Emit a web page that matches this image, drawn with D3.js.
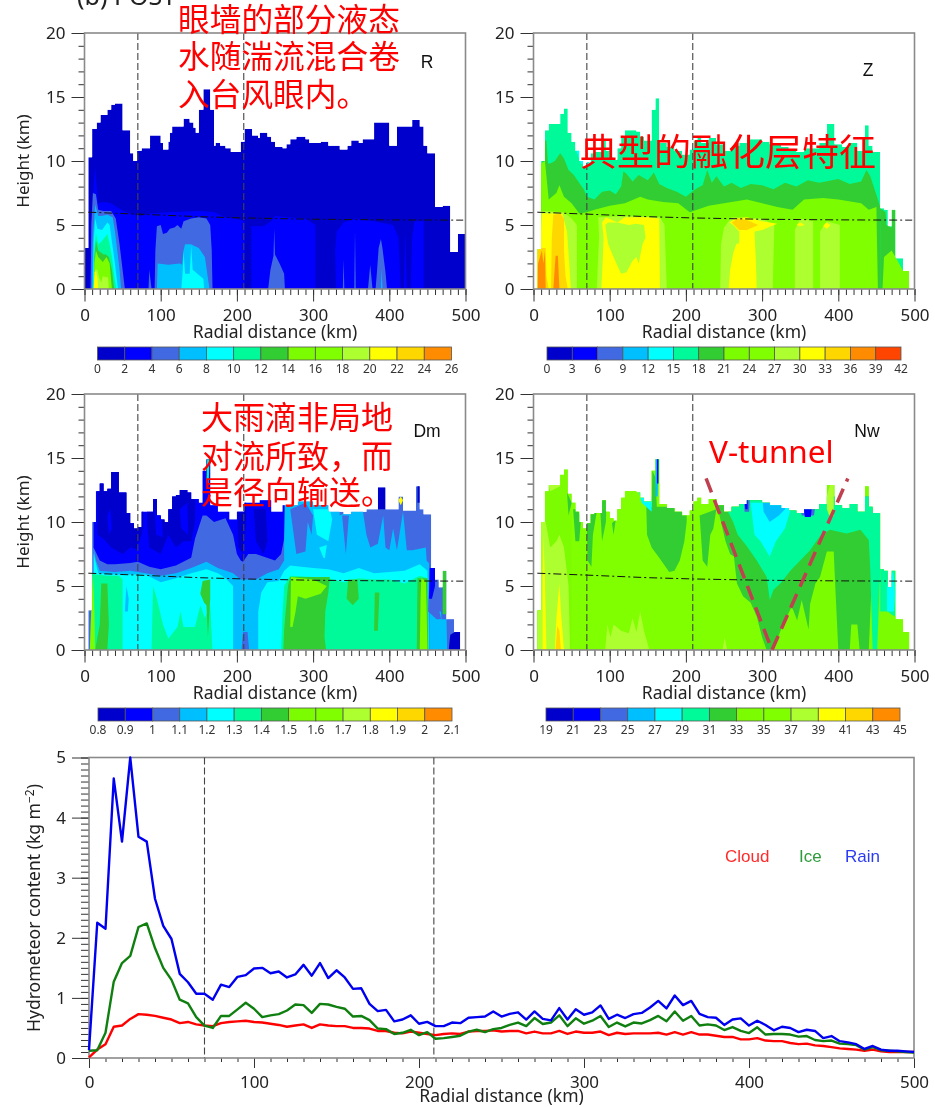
<!DOCTYPE html>
<html><head><meta charset="utf-8">
<script src="https://cdn.jsdelivr.net/npm/d3@7"></script>
<style>html,body{margin:0;padding:0;background:#fff}svg{display:block;filter:blur(0.4px)}</style>
</head><body><svg id="c" width="935" height="1107"></svg>
<script>
const levelColors=["#0000CD","#0000FF","#4169E1","#00BFFF","#00FFFF","#00FA9A","#32CD32","#7CFC00","#7FFF00","#ADFF2F","#FFFF00","#FFD700","#FF8C00","#FF4500"];
const rLevels=[0,2,4,6,8,10,12,14,16,18,20,22,24,26];
const zLevels=[0,3,6,9,12,15,18,21,24,27,30,33,36,39,42];
const dmLevels=[0.8,0.9,1,1.1,1.2,1.3,1.4,1.5,1.6,1.7,1.8,1.9,2,2.1];
const nwLevels=[19,21,23,25,27,29,31,33,35,37,39,41,43,45];
const guideRadii=[70,209];
const meltingLayer=[[5,6],[70,5.85],[150,5.65],[210,5.55],[300,5.45],[400,5.4],[497,5.38]];

const rTop=[[0,3.2],[5,10.3],[10,12.5],[16,13],[21,13.6],[30,14],[35,14.4],[40,14.5],[50,12.4],[60,10.6],[64,10],[69,10.8],[75,11],[86,12],[100,11.4],[103,10.9],[110,11.5],[112,12.2],[115,12.7],[130,13.3],[138,13],[143,12.6],[146,12.2],[150,14],[156,15.6],[165,14],[170,11.2],[172,11.4],[178,11.2],[185,11],[192,10.7],[205,11.5],[210,12.5],[220,12],[228,11.8],[230,12.2],[240,11.9],[245,11.5],[250,11.1],[260,11],[265,11.3],[270,11.7],[278,11.9],[290,11.7],[295,11.4],[310,11.5],[320,11.2],[335,10.9],[345,11.2],[350,11.6],[360,11.4],[365,11.7],[380,13],[400,11.2],[410,12.7],[430,13.2],[440,12.7],[445,11.2],[450,10.6],[460,6.4],[470,6.5],[480,2.9],[490,4.3],[500,4.3]];
const zTop=[[5,3.1],[10,10],[15,12.4],[20,12.9],[35,13.7],[40,14.1],[45,12.2],[50,11.5],[55,10.8],[60,10],[65,9.5],[70,9.9],[75,10.6],[80,10.7],[90,11.7],[95,10.8],[100,10.3],[105,10.1],[110,11],[115,11.9],[120,12.4],[135,12.3],[140,11.9],[145,11.6],[155,14],[160,14.9],[165,11.4],[175,11.1],[185,10.8],[195,10.5],[205,10.9],[210,11.6],[215,11.9],[220,11.4],[230,11.8],[240,11.3],[250,10.8],[260,11.2],[270,11.4],[280,11.7],[300,11.5],[310,11.3],[325,11.1],[335,10.9],[345,10.7],[355,11],[365,11],[375,11.4],[385,12.9],[395,11.3],[405,11.1],[415,11.4],[425,10.8],[435,12.8],[440,11.2],[445,10.7],[455,6.3],[460,6.2],[465,4.9],[470,6.2],[475,2.4],[485,1.4],[493,1.4]];
const dmTop=[[5,3.1],[10,10],[15,12.4],[20,13],[25,12.4],[30,12.6],[35,13.9],[45,12.3],[55,10.7],[60,9.9],[65,9.5],[70,9.6],[75,10.8],[90,11.8],[95,10.5],[100,10.2],[105,10],[110,11],[115,12],[120,12.1],[125,12.5],[135,12.3],[140,11.8],[150,11.5],[155,14],[160,14.9],[165,11.3],[175,10.8],[190,10.2],[200,10.8],[210,11.5],[230,11.7],[245,10.8],[260,11.3],[280,11.6],[300,11.3],[320,10.8],[340,10.6],[350,10.8],[370,11],[385,12.7],[395,11],[412,12],[418,10.9],[435,12.8],[440,11],[445,10.6],[455,6.4],[460,5.5],[465,4.9],[470,6.2],[475,2.4],[485,1.4],[493,1.4]];

const rRegions=[
[1,[[6,0],[8,5],[10,6.3],[12,8],[14,9.5],[16,8],[18,6.7],[25,6.8],[35,6.7],[45,6.3],[55,6],[65,5.8],[75,5.7],[85,5.9],[110,6],[150,6.1],[170,6],[185,5.6],[205,5.4],[210,5.3],[210,0]]],
[1,[[219,0],[219,4.9],[235,4.9],[245,5.3],[250,5.7],[265,5.6],[290,5.5],[303,5],[303,0]]],
[1,[[330,0],[329,3],[331,4.5],[340,5.2],[355,5.5],[380,5.3],[405,5],[412,4],[415,0]]],
[1,[[419,0],[421,4.5],[423,0]]],
[1,[[428,0],[430,4],[433,5.3],[445,5.3],[445,0]]],
[2,[[8,0],[9,5],[11,7.5],[15,7.4],[18,6.2],[25,6.1],[35,6.1],[41,5.5],[46,3.5],[50,1.5],[53,0]]],
[2,[[84,0],[85,1.5],[88,0]]],
[2,[[92,0],[93,3],[95,4.9],[100,5],[103,4.3],[108,4.4],[112,4.7],[118,4.8],[122,5],[127,4.7],[130,5.3],[140,5.5],[150,5.6],[160,5.5],[165,5],[167,3],[168,0]]],
[2,[[241,0],[244,1.5],[248,2.6],[249,4.7],[250,2.7],[256,2],[262,1.2],[263,0]]],
[2,[[372,0],[375,1.9],[378,0]]],
[2,[[382,0],[384,1.5],[386,3.2],[389,3.9],[391,3.2],[395,1.3],[397,0]]],
[2,[[339,0],[340,2.3],[341,0]]],
[2,[[354,0],[355,4.5],[356,0]]],
[3,[[10,0],[11,4],[14,6.6],[18,5.7],[22,5.7],[30,5.8],[37,5.6],[40,4.5],[43,3],[46,1.5],[48,0]]],
[3,[[95,0],[96,2],[110,1.9],[125,2],[128,1.9],[130,3],[132,3.5],[140,3.5],[143,3.4],[150,3.2],[158,2.5],[164,0]]],
[3,[[389,0],[390,1.6],[391,0]]],
[4,[[11,0],[12,3.6],[14,5.5],[17,4.7],[23,4.6],[30,5.2],[33,5],[36,3.7],[40,2],[44,0]]],
[4,[[127,0],[129,1.5],[130,3],[132,1.2],[138,1.2],[140,3.4],[142,1.5],[150,1.1],[156,0.8],[157,0]]],
[5,[[12,0],[13,3],[15,4.4],[18,3.5],[22,3.7],[30,4.3],[33,3.5],[36,2.5],[39,1],[42,0]]],
[6,[[12,0],[13,2.5],[15,3.8],[18,3],[25,2.7],[28,2.7],[32,2.5],[36,1.5],[39,0]]],
[7,[[12,0],[13,2],[15,3],[18,2.5],[24,2.1],[29,2.5],[33,2],[36,0]]],
[9,[[13,0],[14,1.5],[17,1.5],[19,0.9],[22,0.5],[24,1],[31,0.9],[32,0]]],
[10,[[12,0],[13.5,1.3],[15,1.4],[17,0.8],[18,0]]]
];

const zRegions=[
[4,[[55,11],[62,9.8],[72,9.5],[75,11]]],
[6,[[5,0],[12,10],[15,11.6],[17,11.6],[19,9.8],[22,9.8],[28,10],[35,10.6],[40,10.2],[46,9.3],[53,8.9],[61,8.2],[66,7.8],[70,7.2],[80,7],[90,7.6],[100,7.7],[108,7.4],[115,8],[118,9.2],[122,9],[130,8.4],[138,8.9],[150,8.5],[158,9.1],[165,8.2],[175,7.9],[188,7.6],[200,7.2],[208,7.6],[215,7.9],[222,8.1],[228,9.3],[234,8.3],[240,8.8],[250,8],[260,8.3],[272,7.9],[285,8.2],[300,8.1],[315,7.8],[330,8.3],[345,8],[360,8.5],[375,8.3],[400,8.6],[415,8.2],[430,8.4],[437,9.3],[442,8.8],[452,7],[455,6.4],[455,0]]],
[6,[[455,0],[455,6.3],[462,6],[463,5],[470,4.8],[470,6.2],[475,6.2],[475,0]]],
[7,[[5,0],[5,3.1],[10,9.8],[15,10],[20,7],[30,7.5],[34,8.1],[40,7.2],[50,6.7],[60,5.9],[70,6],[80,6.2],[100,6.5],[120,6.7],[140,7.2],[150,7],[170,6.8],[190,6.7],[205,6],[230,6.5],[260,6.8],[280,7],[300,6.7],[320,6.4],[340,6.2],[355,7],[380,7.1],[400,7],[430,6.7],[440,6.2],[450,6.4],[452,0]]],
[7,[[458,0],[460,2.5],[470,3],[476,2.4],[485,1.4],[493,1.4],[493,0]]],
[8,[[5,0],[5,3],[10,6],[30,6],[60,5.8],[100,5.8],[150,5.7],[200,5.5],[250,5.5],[300,5.5],[350,5.4],[400,5.4],[449,5.2],[451,0]]],
[9,[[5,0],[5,3],[10,6.1],[40,6],[50,5.5],[57,5],[57,0]]],
[9,[[83,0],[86,4],[85,5.6],[120,5.7],[166,5.6],[172,5],[175,0]]],
[9,[[245,0],[246,3.5],[250,4.8],[260,5.6],[300,5.5],[316,5],[314,0]]],
[9,[[343,0],[343,4.6],[350,5.5],[367,5.3],[367,0]]],
[9,[[376,0],[376,4.5],[385,5.3],[402,5],[402,0]]],
[10,[[5,0],[5,3],[9,3.5],[11,5.9],[25,5.9],[38,5.9],[44,4.5],[47,2],[49,0]]],
[10,[[89,0],[91,2.5],[92,4],[90,5.2],[95,5.6],[110,5.2],[120,5.6],[150,5.6],[165,5.5],[166,0]]],
[9,[[94,5],[98,3.5],[105,2.5],[115,1.2],[122,1.3],[130,2.2],[135,2.5],[138,2],[143,3.5],[147,4],[145,5],[135,5.1],[125,5],[110,5.2],[98,5.2]]],
[10,[[256,0],[258,1.5],[262,2.8],[266,3.5],[270,3.6],[270,4.5],[262,5],[257,5.2],[265,5.5],[280,5.6],[300,5.3],[320,5.1],[300,4.6],[290,4.5],[292,2],[293,0]]],
[10,[[345,5],[350,5.2],[356,5],[350,4.9]]],
[10,[[380,4.9],[384,5.2],[390,5],[385,4.7]]],
[11,[[260,5.2],[268,5.5],[280,5.4],[295,5],[280,4.6],[270,4.6]]],
[11,[[5,0],[5,3],[10,3.2],[16,3.2],[17,1],[20,0]]],
[11,[[23,0],[24,4],[26,5.8],[35,5.9],[40,5.5],[40,3],[42,1],[45,0]]],
[12,[[5.5,0],[6,2],[11,3],[13,2],[15,3],[16,0]]],
[12,[[26,0],[29,2.6],[32,2.6],[34,0]]]
];

const dmRegions=[
[1,[[12,16],[12,8],[20,7],[30,6.7],[40,6.7],[60,6.8],[70,6.9],[85,6.5],[100,6.3],[120,6.6],[140,7.2],[145,8.7],[155,10.5],[160,10.5],[170,10],[185,10.3],[195,9],[200,7.5],[205,7],[208,6.9],[215,7.5],[225,7.5],[250,7],[258,7.5],[263,9],[262,16]]],
[0,[[16,16],[17,9],[25,8.7],[35,8],[50,7.5],[60,8],[68,7.9],[72,8.5],[77,9.5],[78,16]]],
[1,[[30,10.5],[32,9],[36,9.5],[34,11]]],
[0,[[82,16],[82,10],[85,8],[100,7.5],[110,9],[120,8],[130,8.5],[140,8.5],[145,10],[147,16]]],
[1,[[92,11],[94,9],[103,8.8],[101,10.5]]],
[1,[[125,11],[127,9.5],[136,9],[135,11.5]]],
[0,[[200,12],[202,8],[208,7.5],[212,10],[212,12]]],
[0,[[222,11],[225,8.5],[235,7.5],[240,8.5],[238,11]]],
[0,[[385,16],[385,11],[395,11],[395,16]]],
[0,[[437,16],[437,11.5],[440,11.5],[440,16]]],
[3,[[262,6],[262,9],[265,16],[330,16],[335,10.5],[360,11.2],[365,11],[370,9],[375,8],[385,8.3],[392,10.5],[395,8],[400,7.8],[405,9.5],[410,7.8],[418,10.8],[423,7.8],[430,7.8],[448,8],[450,6]]],
[2,[[270,11],[278,7.5],[290,7.7],[293,10],[298,9],[300,10.5],[290,11.5]]],
[2,[[338,10.5],[343,7.5],[347,10.5]]],
[4,[[300,11],[305,9],[320,8.5],[325,10.2],[322,11]]],
[4,[[308,8],[315,7],[318,8.2]]],
[3,[[12,0],[12,8],[15,7],[20,6.2],[40,6.1],[60,6.2],[80,6],[100,5.8],[120,6],[140,6.4],[160,6.9],[175,6.4],[195,6],[205,5.5],[225,5.5],[240,6],[255,6.3],[262,7],[300,7.4],[340,6.8],[380,6.8],[420,7],[440,7.4],[452,6.8],[453,0]]],
[2,[[206,0],[208,1.4],[214,1.4],[216,0]]],
[4,[[12,0],[12,7.5],[18,6],[40,5.9],[60,5.9],[80,5.9],[100,5.3],[120,5.6],[140,6],[160,6.3],[175,6],[185,5.6],[195,5],[195,0]]],
[4,[[228,0],[228,3],[232,4.5],[240,5.3],[255,5.4],[262,6.2],[270,6.6],[300,6.4],[320,6.3],[340,6],[360,6.4],[380,6],[400,6.1],[420,6.2],[440,6.7],[450,6.2],[452,0]]],
[3,[[53,3],[55,5],[58,4],[57,3]]],
[5,[[9,0],[10,6],[15,5.9],[30,5.8],[45,5.8],[50,5.5],[50,0]]],
[5,[[88,0],[90,5],[95,4],[103,2],[110,0.9],[122,1.8],[126,3],[130,1.8],[145,1.8],[152,3.5],[158,2.5],[165,3.5],[168,0]]],
[5,[[258,0],[260,3],[262,5],[270,5.8],[300,5.7],[320,5.6],[340,5.3],[360,5.6],[380,5.5],[400,5.5],[420,5.2],[440,5.8],[450,5.6],[452,0]]],
[6,[[14,0],[20,2],[22,5.2],[30,5.2],[32,2],[30,0]]],
[6,[[152,4.4],[155,5.4],[165,5.5],[165,4],[162,1],[160,3.5],[157,3.7]]],
[6,[[261,0],[262,1.6],[264,3],[267,5],[270,5.7],[300,5.7],[322,5.7],[320,4.5],[316,3],[315,1],[317,0]]],
[6,[[344,4],[346,5.5],[358,5.5],[360,4],[352,3.5]]],
[6,[[380,1.5],[381,4.5],[387,4.5],[385,1.5]]],
[6,[[436,0],[437,5.6],[450,5.6],[451,0]]],
[7,[[7,0],[8,2],[11,6],[13,3],[14,0]]],
[7,[[270,1.8],[271,5.7],[300,5.5],[318,5],[310,4.4],[290,4],[280,4.2],[277,3],[273,1.8]]],
[7,[[440,0],[441,4],[442,5.6],[448,5.4],[449,3],[450,0]]],
[5,[[160,13],[161,15],[164,15],[163,13]]],
[10,[[412,11.7],[415,12],[418,11.7],[415,11.3]]],
[3,[[453,0],[453,3],[468,3],[470,0]]],
[2,[[451,3],[453,6.4],[458,6.4],[462,4],[468,2.4],[462,2.4]]],
[1,[[452,4],[453,6.4],[460,6.4],[460,5],[456,4]]],
[3,[[466,0],[466,2.4],[475,2.4],[476,0]]],
[6,[[470,2.8],[470,6.2],[475,6.2],[475,2.8]]],
[2,[[476,0],[476,2.4],[485,2.4],[486,0]]],
[0,[[478,0],[480,1.2],[486,1.4],[493,1.4],[493,0]]]
];

const nwRegions=[
[7,[[0,0],[0,16],[500,16],[500,0]]],
[8,[[50,0],[50,16],[300,16],[300,0]]],
[9,[[5,0],[5,3.1],[10,10],[16,10],[22,8],[30,8.5],[34,9],[40,8],[46,5],[48,0]]],
[9,[[20,12.9],[22,12.4],[35,12.8],[35,12.9]]],
[10,[[12,0],[12,5],[13,9],[15,5.5],[17,0]]],
[10,[[28,0],[30,2.5],[34,5.2],[36,3],[40,0]]],
[11,[[29,0],[31,1.9],[34,1.5],[36,0]]],
[9,[[94,0],[97,2],[101,1],[105,2],[115,1.5],[125,1.3],[130,2.5],[135,1.4],[140,3],[145,1.5],[152,0]]],
[9,[[248,0],[251,1],[254,0]]],
[9,[[483,0],[484,1],[493,1.2],[493,0]]],
[6,[[44,12.3],[46,10.5],[50,11.5]]],
[6,[[52,11],[55,8.5],[60,8.5],[62,10],[65,10],[58,11]]],
[6,[[70,9.8],[71,7],[76,6.5],[78,9],[83,10.8],[75,10.8]]],
[6,[[87,11.5],[90,8.5],[95,10],[96,12]]],
[6,[[103,9.9],[105,9],[108,10.2]]],
[6,[[148,11.2],[149,9],[155,8],[165,7.2],[178,6.1],[185,6.2],[192,7],[198,8.5],[201,10],[201,11.2]]],
[6,[[155,11],[156,14],[160,13.5],[162,11]]],
[4,[[138,12.4],[142,11.5],[155,10.8],[155,12]]],
[6,[[218,10.5],[222,7],[228,6.5],[232,9],[236,9.5],[240,11]]],
[6,[[240,11.4],[244,10.5],[252,8.5],[258,7.5],[263,7.3],[267,5.2],[275,4.2],[285,3.7],[293,2.6],[300,1],[306,0],[315,0],[326,1.8],[339,3.4],[346,2.3],[352,3.9],[361,1.6],[363,3.6],[370,5.2],[376,5.7],[385,7.7],[394,7.7],[396,5],[400,0],[415,0],[417,2],[425,2],[428,0],[440,0],[445,7],[455,7],[455,12],[240,12]]],
[5,[[245,12],[262,10],[268,9],[280,8.1],[293,7],[306,5.7],[310,3.9],[315,4.7],[324,5.2],[337,6.2],[350,7],[363,7.8],[376,8.9],[389,9.4],[411,9.1],[429,9.4],[440,8.6],[442,6.2],[445,0],[451,0],[455,6.2],[455,12]]],
[4,[[285,11.5],[290,9],[298,8.5],[310,7.3],[318,8.5],[330,9.5],[340,11.5]]],
[3,[[300,12],[302,10.8],[310,10],[322,10.5],[330,11],[335,12]]],
[2,[[276,12],[277,10.8],[283,10.8],[284,12]]],
[2,[[350,11.3],[352,10.5],[368,10.5],[370,11.3]]],
[1,[[277,12],[278,11],[281,11],[281,12]]],
[1,[[355,11],[356,10.4],[364,10.4],[365,11]]],
[3,[[160,15],[160,12],[163,12],[164,15]]],
[1,[[162,15],[162,13],[164,13],[164,15]]],
[9,[[385,11],[385,12],[389,12.9],[394,12.9],[394,10.5],[390,10.2]]],
[5,[[455,3],[455,6.4],[475,6.4],[475,2.5],[465,3]]],
[7,[[476,0],[476,2.5],[493,1.4],[493,0]]],
[7,[[460,0],[460,3],[476,2.6],[476,0]]],
[4,[[464,3],[464,5],[472,6.2],[475,4.5],[473,3]]]
];

const radial=d3.range(0,501,5);
const rainContent=[0.13,2.25,2.15,4.65,3.6,5,3.68,3.6,2.65,2.2,1.98,1.4,1.26,1.07,1.07,0.97,1.22,1.18,1.35,1.38,1.49,1.5,1.41,1.44,1.34,1.39,1.55,1.37,1.58,1.33,1.46,1.34,1.15,1.16,0.9,0.78,0.8,0.61,0.64,0.71,0.57,0.6,0.53,0.53,0.59,0.58,0.67,0.68,0.69,0.775,0.69,0.735,0.76,0.64,0.775,0.65,0.625,0.83,0.64,0.81,0.72,0.76,0.875,0.65,0.72,0.665,0.73,0.75,0.84,0.95,0.825,1.04,0.88,0.95,0.735,0.68,0.67,0.55,0.64,0.66,0.54,0.62,0.55,0.46,0.52,0.5,0.43,0.47,0.45,0.33,0.365,0.28,0.26,0.23,0.15,0.2,0.14,0.12,0.12,0.11,0.1];
const iceContent=[0.12,0.13,0.42,1.27,1.58,1.7,2.18,2.24,1.83,1.5,1.3,0.97,0.91,0.68,0.54,0.5,0.7,0.7,0.81,0.92,0.82,0.68,0.71,0.73,0.79,0.89,0.88,0.75,0.9,0.89,0.85,0.82,0.69,0.7,0.63,0.49,0.48,0.4,0.42,0.47,0.38,0.43,0.32,0.33,0.35,0.37,0.44,0.47,0.43,0.48,0.5,0.55,0.59,0.53,0.665,0.565,0.59,0.71,0.53,0.66,0.57,0.62,0.7,0.515,0.59,0.525,0.59,0.575,0.63,0.7,0.61,0.775,0.62,0.7,0.54,0.56,0.54,0.465,0.515,0.45,0.415,0.51,0.39,0.4,0.4,0.39,0.355,0.365,0.3,0.28,0.29,0.24,0.23,0.215,0.14,0.18,0.13,0.12,0.11,0.1,0.09];
const cloudContent=[0.01,0.14,0.23,0.52,0.54,0.65,0.73,0.72,0.7,0.67,0.64,0.58,0.6,0.56,0.54,0.53,0.58,0.6,0.61,0.62,0.6,0.59,0.57,0.55,0.52,0.54,0.56,0.5,0.56,0.54,0.53,0.53,0.5,0.5,0.49,0.45,0.45,0.42,0.41,0.44,0.42,0.4,0.38,0.4,0.41,0.4,0.44,0.45,0.45,0.46,0.44,0.45,0.45,0.41,0.44,0.41,0.41,0.45,0.4,0.44,0.42,0.42,0.44,0.38,0.42,0.4,0.41,0.41,0.41,0.42,0.39,0.43,0.39,0.43,0.39,0.39,0.37,0.35,0.35,0.31,0.31,0.33,0.29,0.28,0.28,0.25,0.23,0.24,0.21,0.2,0.18,0.16,0.15,0.14,0.12,0.14,0.11,0.1,0.1,0.1,0.1];
const legendNames=["Cloud","Ice","Rain"];

const svg=d3.select("#c");
const FONT='"Noto Sans",sans-serif', INK="#222", AXIS="#8a8a8a";
function axes(g,x,y,xMinor,yTicks,yMinor,xTitleY,tx,ty){
  const [x0,x1]=x.range(),[y0,y1]=y.range();
  const fmt=d3.format("d");
  const xa=d3.axisBottom(x).tickValues(xMinor).tickSize(tx[1]).tickFormat("");
  const xb=d3.axisBottom(x).tickValues(d3.range(0,501,100)).tickSize(tx[0]).tickPadding(tx[2]).tickFormat(fmt);
  const ya=d3.axisLeft(y).tickValues(yMinor).tickSize(ty[1]).tickFormat("");
  const yb=d3.axisLeft(y).tickValues(yTicks).tickSize(ty[0]).tickPadding(ty[2]).tickFormat(fmt);
  const add=(gen,t)=>{const a=g.append("g").attr("transform",t).call(gen);a.select(".domain").remove();
    a.selectAll("line").attr("stroke","#333").attr("stroke-width",1);
    a.selectAll("text").attr("font-family",FONT).attr("font-size",17).attr("fill",INK);};
  add(xa,`translate(0,${y0})`);add(xb,`translate(0,${y0})`);add(ya,`translate(${x0},0)`);add(yb,`translate(${x0},0)`);
  g.append("rect").attr("x",x0).attr("y",y1).attr("width",x1-x0).attr("height",y0-y1).attr("fill","none").attr("stroke",AXIS).attr("stroke-width",1.6);
  g.append("text").attr("x",(x0+x1)/2).attr("y",xTitleY).attr("text-anchor","middle").attr("font-family",FONT).attr("font-size",17.5).attr("fill",INK).text("Radial distance (km)");
}
function guides(g,x,y0,y1){
  guideRadii.forEach(r=>g.append("line").attr("x1",x(r)).attr("x2",x(r)).attr("y1",y1).attr("y2",y0).attr("stroke","#444").attr("stroke-width",1.1).attr("stroke-dasharray","7 3"));
}
let clipId=0;
function panel(o){
  const x=d3.scaleLinear().domain([0,500]).range([o.x0,o.x0+381]);
  const y=d3.scaleLinear().domain([0,20]).range([o.y0+256,o.y0]);
  const g=svg.append("g");
  const id="clip"+(++clipId);
  const area=d3.area().x(d=>x(d[0])).y0(y(0)).y1(d=>y(d[1])).curve(d3.curveStepAfter);
  g.append("clipPath").attr("id",id).append("path").attr("d",area(o.top));
  const m=g.append("g").attr("clip-path",`url(#${id})`);
  m.append("path").attr("d",area(o.top)).attr("fill",levelColors[o.base]);
  const line=d3.line().x(d=>x(d[0])).y(d=>y(d[1]));
  m.selectAll("path.r").data(o.regions).join("path").attr("class","r")
    .attr("d",d=>line(d[1])+"Z").attr("fill",d=>levelColors[d[0]]);
  guides(g,x,o.y0+256,o.y0);
  g.append("path").attr("d",line(meltingLayer)).attr("fill","none").attr("stroke","#111").attr("stroke-width",1).attr("stroke-dasharray","8 3 2 3");
  axes(g,x,y,d3.range(0,501,10),d3.range(0,21,5),d3.range(0,21,1),o.y0+305,[12.5,6,7],[13,6,6]);
  if(o.ytitle) g.append("text").attr("transform",`translate(24,${o.y0+128}) rotate(-90)`).attr("text-anchor","middle").attr("dominant-baseline","middle").attr("font-family",FONT).attr("font-size",17).attr("fill",INK).text("Height (km)");
  const n=o.levels.length-1;
  const bx=d3.scaleLinear().domain([0,n]).range([o.bar[0],o.bar[1]]);
  const by=o.y0+314;
  g.selectAll("rect.b").data(d3.range(n)).join("rect").attr("class","b").attr("x",i=>bx(i)).attr("y",by).attr("width",i=>bx(i+1)-bx(i)).attr("height",13).attr("fill",i=>levelColors[i]).attr("stroke","#555").attr("stroke-width",.8);
  g.selectAll("text.b").data(o.levels).join("text").attr("class","b").attr("x",(d,i)=>bx(i)).attr("y",by+26).attr("text-anchor","middle").attr("font-family",FONT).attr("font-size",12).attr("fill","#333").text(d=>d);
  g.append("text").attr("x",o.label[0]).attr("y",o.label[1]).attr("text-anchor","middle").attr("font-family",'"Liberation Sans"').attr("font-size",17.5).attr("fill","#111").text(o.name);
}
panel({x0:84.5,y0:33,top:rTop,base:0,regions:rRegions,levels:rLevels,bar:[97.5,451.5],name:"R",label:[427,68],ytitle:true});
panel({x0:533.5,y0:33,top:zTop,base:5,regions:zRegions,levels:zLevels,bar:[547,901],name:"Z",label:[868,76]});
panel({x0:84.5,y0:394,top:dmTop,base:2,regions:dmRegions,levels:dmLevels,bar:[98,452],name:"Dm",label:[427,437],ytitle:true});
panel({x0:533.5,y0:394,top:zTop,base:8,regions:nwRegions,levels:nwLevels,bar:[546,900],name:"Nw",label:[867,437]});

const hx=d3.scaleLinear().domain([0,500]).range([89,914]);
const hy=d3.scaleLinear().domain([0,5]).range([1058,757.5]);
const hg=svg.append("g");
axes(hg,hx,hy,d3.range(0,501,10),d3.range(0,6,1),d3.range(0,5.01,0.1),1102,[10,4,8],[17,8,6]);
guides(hg,hx,1058,757.5);
const hl=d3.line().x((d,i)=>hx(radial[i])).y(d=>hy(d));
[[cloudContent,"#ff0000"],[iceContent,"#0f7f0f"],[rainContent,"#0000f0"]].forEach(([s,c])=>hg.append("path").attr("d",hl(s)).attr("fill","none").attr("stroke",c).attr("stroke-width",2.4).attr("stroke-linejoin","round"));
hg.selectAll("text.l").data(legendNames).join("text").attr("class","l").attr("x",(d,i)=>[725,799,845][i]).attr("y",862).attr("font-family",'"Liberation Sans"').attr("font-size",17).attr("fill",(d,i)=>["#ff2a2a","#2e9b3c","#2b3cf0"][i]).text(d=>d);
const yt=hg.append("text").attr("transform","translate(40,908) rotate(-90)").attr("text-anchor","middle").attr("font-family",FONT).attr("font-size",17.5).attr("fill",INK);
yt.append("tspan").text("Hydrometeor content (kg m");
yt.append("tspan").attr("dy",-6).attr("font-size",12).text("−2");
yt.append("tspan").attr("dy",6).text(")");

const CJK='"Noto Sans CJK SC"';
const redText=(s,x,y,fs,f)=>svg.append("text").attr("x",x).attr("y",y).attr("font-family",f||CJK).attr("font-size",fs).attr("fill","#ff0000").text(s);
svg.append("text").attr("x",77).attr("y",5).attr("font-family",FONT).attr("font-size",25).attr("fill",INK).text("(b) POST");
redText("眼墙的部分液态",178,31,31.7);redText("水随湍流混合卷",178,68,31.7);redText("入台风眼内。",178,106,31.7);
redText("典型的融化层特征",580,166,37);
redText("大雨滴非局地",201,429,32);redText("对流所致，而",201,468,32);redText("是径向输送。",201,504,32);
redText("V-tunnel",709,463,31.5,FONT);
const vx=d3.scaleLinear().domain([0,500]).range([533.5,914.5]), vy=d3.scaleLinear().domain([0,20]).range([650,394]);
const vTunnel=[[226.5,13.4],[313,0],[412.5,13.4]];
svg.append("path").attr("d",d3.line().x(d=>vx(d[0])).y(d=>vy(d[1]))(vTunnel)).attr("fill","none").attr("stroke","#c0404f").attr("stroke-width",3.5).attr("stroke-dasharray","15 8");
</script></body></html>
